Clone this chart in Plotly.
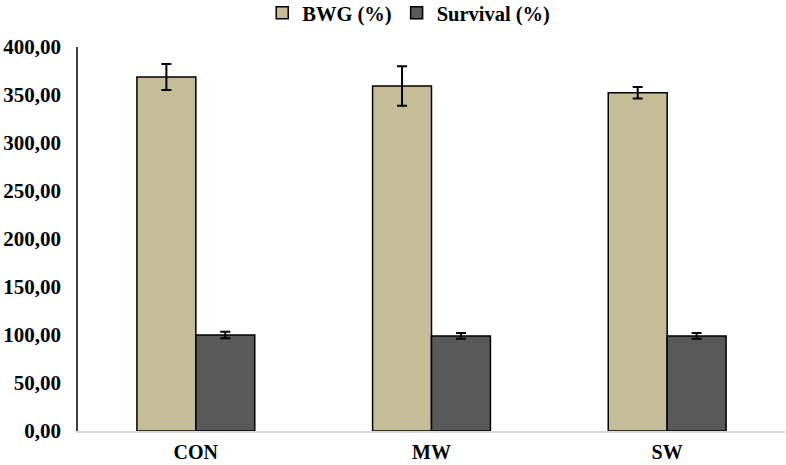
import plotly.graph_objects as go

categories = ["CON", "MW", "SW"]
bwg = [368.7, 359.4, 352.4]
bwg_err = [13.5, 20.5, 6.0]
survival = [100.0, 99.0, 99.0]
survival_err = [3.4, 3.0, 3.0]

FONT = "Liberation Serif"

fig = go.Figure()
fig.add_trace(go.Bar(
    name="BWG (%)", x=categories, y=bwg,
    marker=dict(color="#c4bd97", line=dict(color="#000000", width=1.5)),
    error_y=dict(type="data", array=bwg_err, color="#000000", thickness=2, width=5),
))
fig.add_trace(go.Bar(
    name="Survival (%)", x=categories, y=survival,
    marker=dict(color="#595959", line=dict(color="#000000", width=1.5)),
    error_y=dict(type="data", array=survival_err, color="#000000", thickness=2, width=5),
))

fig.update_layout(
    width=786, height=465,
    margin=dict(l=78, r=1, t=47, b=34, autoexpand=False),
    paper_bgcolor="white", plot_bgcolor="white",
    barmode="group", bargap=0.5, bargroupgap=0,
    separators=",.",
    font=dict(family=FONT, size=20, color="#000000", weight="bold"),
    legend=dict(orientation="h", x=0.52, xanchor="center", y=0.972, yanchor="middle",
                yref="container", xref="container",
                font=dict(family=FONT, size=20.5, weight="bold"), itemwidth=30,
                tracegroupgap=0),
    showlegend=True,
)
fig.update_yaxes(range=[0, 400], dtick=50, tickformat=".2f", showgrid=False,
                 showline=True, linecolor="#404040", linewidth=1.5, ticks="",
                 zeroline=False, ticklabelstandoff=11, automargin=False,
                 tickfont=dict(family=FONT, size=21, weight="bold"))
fig.update_xaxes(showgrid=False, showline=True, linecolor="#d9d9d9", linewidth=1.5,
                 ticks="", ticklabelstandoff=2, automargin=False,
                 tickfont=dict(family=FONT, size=20, weight="bold"))

fig.write_html(
    "out.html",
    config={"displayModeBar": False},
    post_script="document.body.style.margin='0';document.body.style.overflow='hidden';",
)
